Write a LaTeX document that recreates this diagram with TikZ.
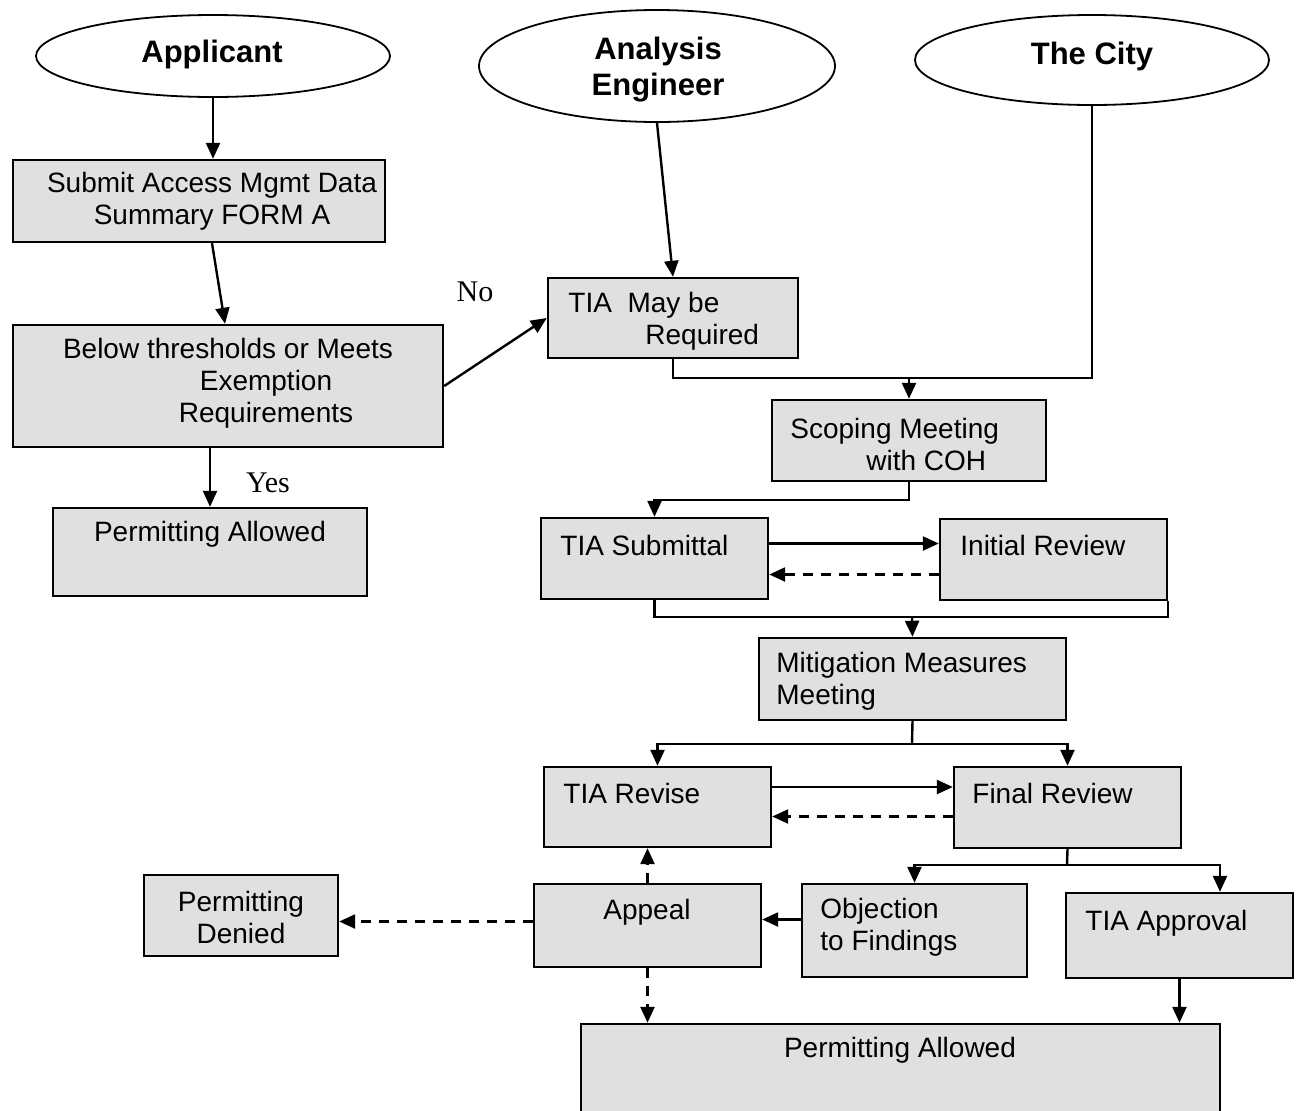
\documentclass[tikz,border=0pt]{standalone}
\usepackage{fontspec}
\setmainfont{Liberation Sans}
\newfontfamily\serifnm{Liberation Serif}
\usetikzlibrary{arrows.meta,shapes.geometric,calc}
\definecolor{boxgray}{HTML}{E0E0E0}
\begin{document}
\begin{tikzpicture}[x=0.5pt,y=-0.5pt,
  actor/.style={ellipse,draw,line width=0.9pt,fill=white,inner sep=0pt},
  actortxt/.style={inner sep=0pt,align=center,font=\bfseries\fontsize{15.5}{18}\selectfont},
  box/.style={rectangle,draw,line width=1.2pt,fill=boxgray,inner sep=0pt},
  txt/.style={inner sep=0pt,font=\fontsize{14}{16}\selectfont},
  lbl/.style={inner sep=0pt,font=\serifnm\fontsize{15}{17}\selectfont},
  conn/.style={line width=1.2pt},
  arr/.style={conn,-{Triangle[length=8pt,width=7pt]}},
  darr/.style={arr,dash pattern=on 5pt off 4pt},
]
\clip (0,0) rectangle (1296,1110);
\fill[white] (0,0) rectangle (1296,1110);

% actors
\node[actor,minimum width=177pt,minimum height=41pt] (app) at (213,56) {};
\node[actor,minimum width=178pt,minimum height=56pt] (eng) at (657,66) {};
\node[actor,minimum width=177pt,minimum height=45pt] (city) at (1092,60) {};
\node[actortxt] (appt) at (212,54) {Applicant};
\node[actortxt] (engt) at (658,70) {Analysis\\Engineer};
\node[actortxt] (cityt) at (1092,56) {The City};

% boxes
\node[box,minimum width=186pt,minimum height=41pt] (sub) at (199,201) {};
\node[box,minimum width=215pt,minimum height=61pt] (below) at (228,386) {};
\node[box,minimum width=157pt,minimum height=44pt] (pal) at (210,552) {};
\node[box,minimum width=125pt,minimum height=40pt] (tia) at (673,318) {};
\node[box,minimum width=137pt,minimum height=40.5pt] (scope) at (909,440.5) {};
\node[box,minimum width=113.5pt,minimum height=40.5pt] (tsub) at (654.5,558.5) {};
\node[box,minimum width=113.5pt,minimum height=40.5pt] (init) at (1053.5,559.5) {};
\node[box,minimum width=153.5pt,minimum height=41pt] (mit) at (912.5,679) {};
\node[box,minimum width=113.5pt,minimum height=40pt] (trev) at (657.5,807) {};
\node[box,minimum width=113.5pt,minimum height=40.5pt] (final) at (1067.5,807.5) {};
\node[box,minimum width=97pt,minimum height=40.5pt] (pd) at (241,915.5) {};
\node[box,minimum width=113.5pt,minimum height=41.5pt] (appeal) at (647.5,925.5) {};
\node[box,minimum width=112.5pt,minimum height=46.5pt] (obj) at (914.5,930.5) {};
\node[box,minimum width=113.5pt,minimum height=42.5pt] (tapp) at (1179.5,935.5) {};
\node[box,minimum width=319.5pt,minimum height=50pt] (pab) at (900.5,1074) {};

% texts
\node[txt,align=center] (subt) at (212,201) {Submit Access Mgmt Data\\Summary FORM A};
\node[txt,align=center] (belowt) at (228,383) {Below thresholds or Meets\\\hspace*{38pt}Exemption\\\hspace*{38pt}Requirements};
\node[txt] (palt) at (210,534) {Permitting Allowed};
\node[txt,align=left,anchor=west] (tiat) at (568,321) {TIA\ \ May be\\\hspace*{38.5pt}Required};
\node[txt,align=left,anchor=west] (scopet) at (790,444) {Scoping Meeting\\\hspace*{38pt}with COH};
\node[txt,anchor=west] (tsubt) at (560,545) {TIA Submittal};
\node[txt,anchor=west] (initt) at (960,545) {Initial Review};
\node[txt,align=left,anchor=west] (mitt) at (776,681) {Mitigation Measures\\Meeting};
\node[txt,anchor=west] (trevt) at (563,793) {TIA Revise};
\node[txt,anchor=west] (finalt) at (972,793) {Final Review};
\node[txt,align=center] (pdt) at (241,917) {Permitting\\Denied};
\node[txt] (appealt) at (647,912) {Appeal};
\node[txt,align=left,anchor=west] (objt) at (820,927) {Objection\\to Findings};
\node[txt,anchor=west] (tappt) at (1085,923) {TIA Approval};
\node[txt] (pabt) at (900,1050) {Permitting Allowed};

\node[lbl] (no) at (475,292) {No};
\node[lbl] (yes) at (268,483) {Yes};

% connectors
\draw[arr] (app.south) -- (app.south |- sub.north);
\draw[arr] ($(sub.south)+(13,0)$) -- ($(below.north)+(-3,0)$);
\draw[arr] (below.east) -- (tia.west);
\draw[arr] (pal.north |- below.south) -- (pal.north);
\draw[arr] (eng.south) -- (tia.north);

\coordinate (m1) at (909,378);
\draw[conn] (tia.south) |- (m1) -| (city.south);
\draw[arr] (m1) -- (scope.north);

\coordinate (m2) at (909,500);
\draw[arr] (scope.south) -- (m2) -| (tsub.north);

\path ($(tsub.east)+(0,-15)$) coordinate (a1);
\draw[arr] (a1) -- (a1 -| init.west);
\path ($(init.west)+(0,15)$) coordinate (a2);
\draw[darr] (a2) -- (a2 -| tsub.east);

\coordinate (m3) at (912,617);
\draw[conn] (tsub.south) |- (m3) -| (init.south east);
\draw[arr] (m3) -- (mit.north);

\coordinate (m4) at (912,744);
\draw[conn] (mit.south) -- (m4);
\draw[arr] (m4) -| (trev.north);
\draw[arr] (m4) -| (final.north);

\path ($(trev.east)+(0,-20)$) coordinate (a3);
\draw[arr] (a3) -- (a3 -| final.west);
\path ($(final.west)+(0,9)$) coordinate (a4);
\draw[darr] (a4) -- (a4 -| trev.east);

\coordinate (m5) at (1067,865);
\draw[conn] (final.south) -- (m5);
\draw[arr] (m5) -| (obj.north);
\path ($(tapp.north)+(40.5,0)$) coordinate (a5);
\draw[arr] (m5) -| (a5);

\path ($(obj.west)+(0,-11)$) coordinate (a6);
\draw[arr] (a6) -- (a6 -| appeal.east);
\path ($(appeal.west)+(0,-4)$) coordinate (a7);
\draw[darr] (a7) -- (a7 -| pd.east);
\draw[darr] (appeal.north) -- (appeal.north |- trev.south);
\draw[darr] (appeal.south) -- (appeal.south |- pab.north);
\draw[arr] (tapp.south) -- (tapp.south |- pab.north);
\end{tikzpicture}
\end{document}
